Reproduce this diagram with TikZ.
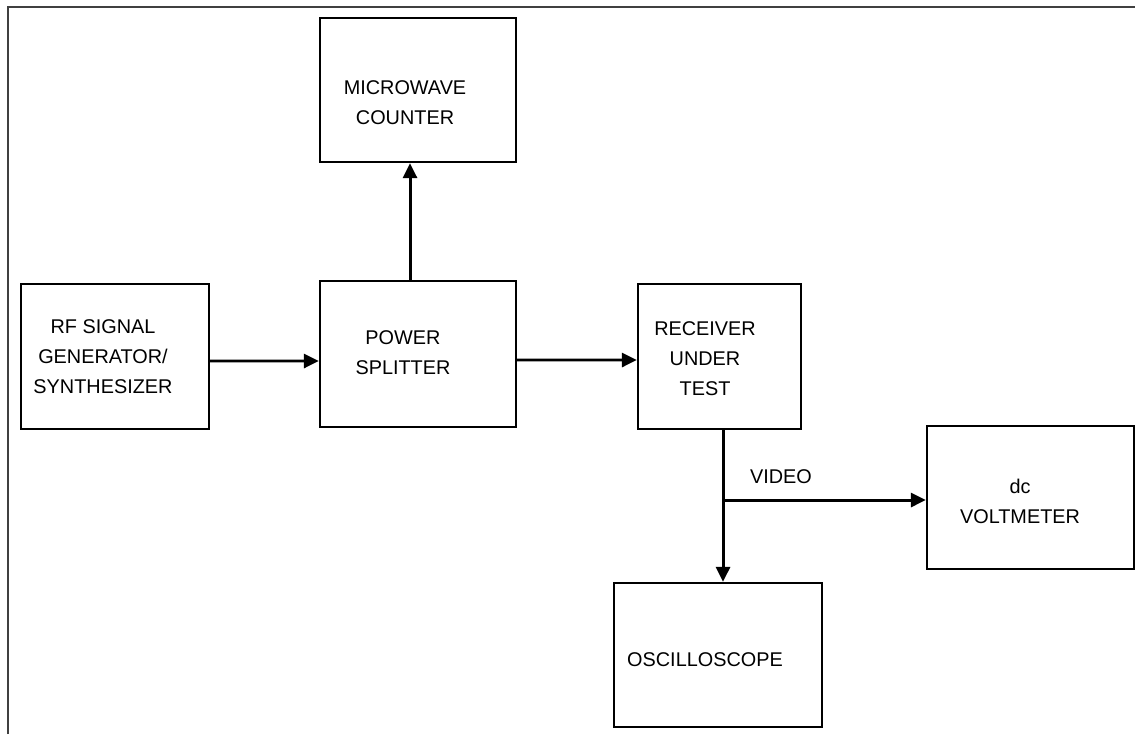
\documentclass[tikz,border=0pt]{standalone}
\usepackage{fontspec}
\setmainfont{Liberation Sans}
\usetikzlibrary{arrows.meta}
\tikzset{
    box/.style={draw, line width=1.3pt, inner sep=0pt},
    lbl/.style={align=center, font=\fontsize{11.3}{17}\selectfont},
    arr/.style={line width=1.7pt, -{Triangle[length=0.30cm,width=0.28cm]}},
    wire/.style={line width=1.7pt}
}
\begin{document}
\begin{tikzpicture}
                \useasboundingbox (0,0) rectangle (22.7,14.68);
                % Marco
                \draw[line width=1.2pt, black!75] (0.16,0) -- (0.16,14.54) -- (22.7,14.54);

                % Bloques
                \node[box, minimum width=3.76cm, minimum height=2.90cm] (rf) at (2.30,7.55) {};
                \node[lbl] (rftxt) at (2.06,7.54) {RF SIGNAL\\GENERATOR/\\SYNTHESIZER};

                \node[box, minimum width=3.92cm, minimum height=2.88cm] (ctr) at (8.36,12.88) {};
                \node[lbl] (ctrtxt) at (8.10,12.63) {MICROWAVE\\COUNTER};

                \node[box, minimum width=3.92cm, minimum height=2.92cm] (ps) at (8.36,7.60) {};
                \node[lbl] (pstxt) at (8.06,7.62) {POWER\\SPLITTER};

                \node[box, minimum width=3.26cm, minimum height=2.90cm] (rx) at (14.39,7.55) {};
                \node[lbl] (rxtxt) at (14.10,7.50) {RECEIVER\\UNDER\\TEST};

                \node[box, minimum width=4.14cm, minimum height=2.86cm] (vm) at (20.61,4.73) {};
                \node[lbl] (vmtxt) at (20.40,4.66) {dc\\VOLTMETER};

                \node[box, minimum width=4.16cm, minimum height=2.88cm] (osc) at (14.36,1.58) {};
                \node[lbl] (osctxt) at (14.10,1.48) {OSCILLOSCOPE};

                % Conexiones
                \draw[arr] ([yshift=-0.09cm]rf.east) -- ([yshift=-0.14cm]ps.west);
                \draw[arr] ([yshift=-0.12cm]ps.east) -- ([yshift=-0.07cm]rx.west);
                \draw[arr] ([xshift=-0.16cm]ps.north) -- ([xshift=-0.16cm]ctr.south);
                \coordinate (jn) at (14.46,4.68);
                \draw[wire] (rx.south -| jn) -- (jn);
                \draw[arr] (jn) -- (osc.north -| jn);
                \draw[arr] (jn) -- (vm.west |- jn);
                \node[lbl] (video) at (15.62,5.14) {VIDEO};

            \end{tikzpicture}
\end{document}
